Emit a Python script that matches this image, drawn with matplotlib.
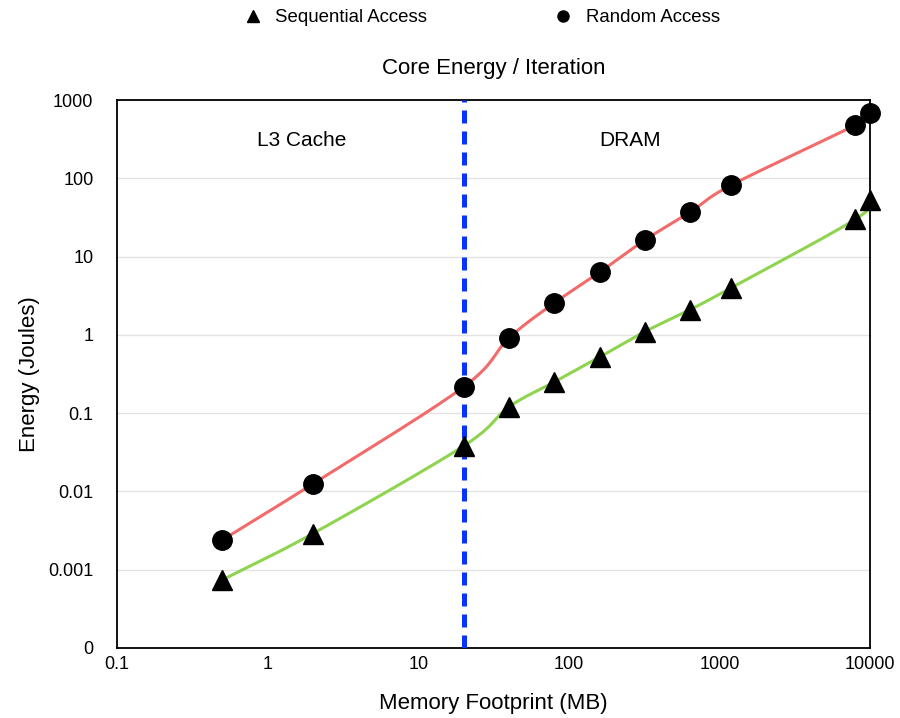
import numpy as np
import matplotlib.pyplot as plt
from matplotlib.lines import Line2D
from matplotlib.ticker import FixedLocator, FixedFormatter

plt.rcParams['font.family'] = ['Liberation Sans', 'DejaVu Sans']

# Memory footprint (MB) and energy per iteration (J)
footprint = [0.5, 2, 20, 40, 80, 160, 320, 640, 1200, 8000, 10000]
sequential = [0.00074, 0.0029, 0.038, 0.12, 0.25, 0.52, 1.1, 2.1, 4.0, 30, 53]
random_acc = [0.0024, 0.0125, 0.216, 0.91, 2.55, 6.3, 16.3, 37, 82, 480, 680]

l3_boundary = 20
y_ticks = [1e-4, 1e-3, 1e-2, 1e-1, 1, 10, 100, 1000]
y_tick_labels = ['0', '0.001', '0.01', '0.1', '1', '10', '100', '1000']
x_ticks = [0.1, 1, 10, 100, 1000, 10000]
x_tick_labels = ['0.1', '1', '10', '100', '1000', '10000']


def smooth(xs, ys, n=20):
    # Catmull-Rom curve through the points, in log-log space (line drawing only)
    px, py = np.log10(xs), np.log10(ys)
    px = np.concatenate([[2 * px[0] - px[1]], px, [2 * px[-1] - px[-2]]])
    py = np.concatenate([[2 * py[0] - py[1]], py, [2 * py[-1] - py[-2]]])
    outx, outy = [], []
    t = np.linspace(0, 1, n)
    for i in range(1, len(px) - 2):
        for p, out in ((px, outx), (py, outy)):
            p0, p1, p2, p3 = p[i - 1], p[i], p[i + 1], p[i + 2]
            out.extend(0.5 * (2 * p1 + (p2 - p0) * t
                              + (2 * p0 - 5 * p1 + 4 * p2 - p3) * t ** 2
                              + (3 * p1 - p0 - 3 * p2 + p3) * t ** 3))
    return 10 ** np.array(outx), 10 ** np.array(outy)


fig = plt.figure(figsize=(9, 7.18), dpi=100)
ax = fig.add_axes([0.13, 0.0975, 0.8367, 0.7632])

sx, sy = smooth(footprint, sequential)
rx, ry = smooth(footprint, random_acc)
ax.plot(sx, sy, color='#8fd44f', linewidth=2.2, zorder=3, clip_on=False)
ax.plot(rx, ry, color='#f26b6b', linewidth=2.2, zorder=3, clip_on=False)
ax.plot(footprint, sequential, linestyle='none', marker='^', markersize=14,
        color='black', zorder=5, clip_on=False)
ax.plot(footprint, random_acc, linestyle='none', marker='o', markersize=14,
        color='black', zorder=5, clip_on=False)

ax.axvline(l3_boundary, color='#0a32ff', linewidth=3.6, linestyle=(0, (2.6, 1.6)), zorder=4)

ax.set_xscale('log')
ax.set_yscale('log')
ax.set_xlim(0.1, 10000)
ax.set_ylim(1e-4, 1000)
ax.xaxis.set_major_locator(FixedLocator(x_ticks))
ax.xaxis.set_major_formatter(FixedFormatter(x_tick_labels))
ax.xaxis.set_minor_locator(FixedLocator([]))
ax.yaxis.set_major_locator(FixedLocator(y_ticks))
ax.yaxis.set_major_formatter(FixedFormatter(y_tick_labels))
ax.yaxis.set_minor_locator(FixedLocator([]))
ax.tick_params(length=0, labelsize=13)
ax.tick_params(axis='x', pad=6)
ax.tick_params(axis='y', pad=17)
ax.yaxis.grid(True, color='#e3e3e3', linewidth=1)
ax.set_axisbelow(True)
for s in ax.spines.values():
    s.set_linewidth(1.3)

ax.set_xlabel('Memory Footprint (MB)', fontsize=16, labelpad=14)
ax.set_ylabel('Energy (Joules)', fontsize=16, labelpad=6)
ax.set_title('Core Energy / Iteration', fontsize=16, pad=19)

ax.text(1.69, 300, 'L3 Cache', fontsize=15, ha='center', va='center')
ax.text(255, 300, 'DRAM', fontsize=15, ha='center', va='center')

handles = [
    Line2D([], [], linestyle='none', marker='^', color='black', markersize=8),
    Line2D([], [], linestyle='none', marker='o', color='black', markersize=8),
]
fig.legend(handles, ['Sequential Access', 'Random Access'], loc='center',
           bbox_to_anchor=(0.53, 0.975), ncol=2, frameon=False, fontsize=13.4,
           columnspacing=6.3, handletextpad=0.2)

fig.savefig('out.png', dpi=100)
